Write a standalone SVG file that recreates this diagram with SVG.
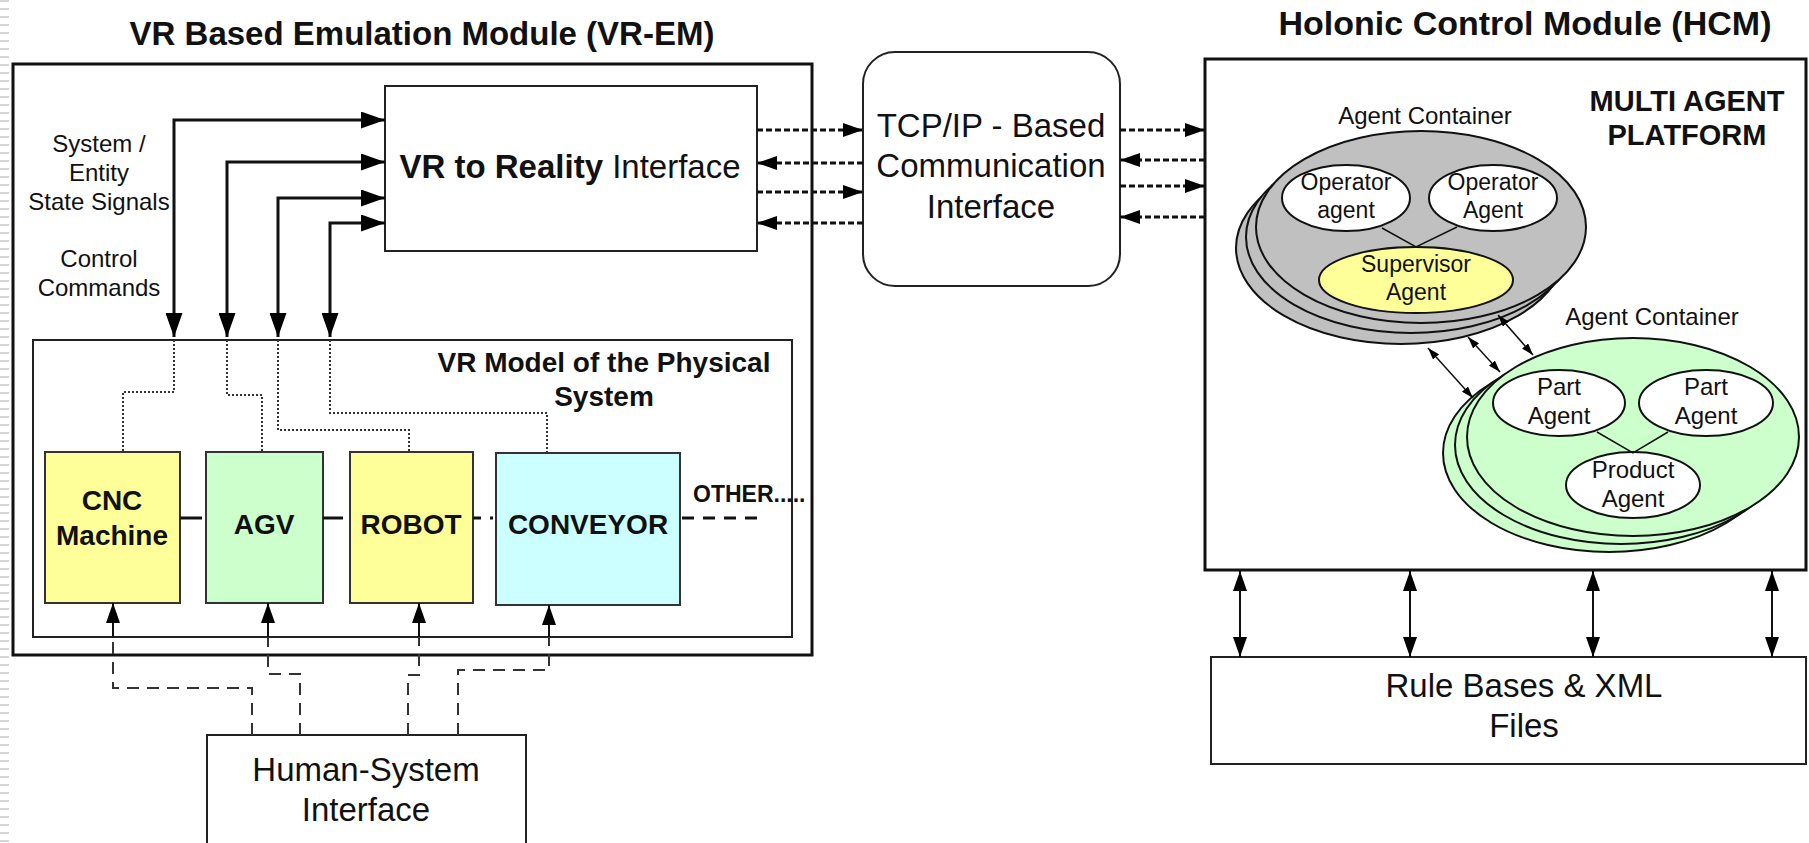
<svg xmlns="http://www.w3.org/2000/svg" width="1809" height="843" viewBox="0 0 1809 843">
<defs>
<style>
text{font-family:"Liberation Sans",Arial,sans-serif;fill:#111;text-anchor:middle}
.b{font-weight:bold}
.box{fill:#fff;stroke:#222;stroke-width:2}
.thick{fill:#fff;stroke:#111;stroke-width:3}
.solid{fill:none;stroke:#111;stroke-width:3}
.dash{fill:none;stroke:#111;stroke-width:3;stroke-dasharray:6 3}
.dot{fill:none;stroke:#333;stroke-width:2;stroke-dasharray:2 2}
.ldash{fill:none;stroke:#333;stroke-width:2;stroke-dasharray:12 8}
.thin{fill:none;stroke:#111;stroke-width:2}
.hair{fill:none;stroke:#111;stroke-width:1.5}
.el{stroke:#111;stroke-width:2}
.gray{fill:#C0C0C0}
.green{fill:#CCFFCC}
.white{fill:#fff}
.yel{fill:#FFFF99}
.comp{stroke:#333;stroke-width:2}
</style>
<marker id="ab" viewBox="0 0 24 17" refX="24" refY="8.5" markerWidth="24" markerHeight="17" markerUnits="userSpaceOnUse" orient="auto-start-reverse"><path d="M0,0 L24,8.5 L0,17 z" fill="#000"/></marker>
<marker id="am" viewBox="0 0 20 14" refX="20" refY="7" markerWidth="20" markerHeight="14" markerUnits="userSpaceOnUse" orient="auto-start-reverse"><path d="M0,0 L20,7 L0,14 z" fill="#000"/></marker>
<marker id="as" viewBox="0 0 12 8" refX="12" refY="4" markerWidth="12" markerHeight="8" markerUnits="userSpaceOnUse" orient="auto-start-reverse"><path d="M0,0 L12,4 L0,8 z" fill="#000"/></marker>
<pattern id="stripes" width="10" height="8" patternUnits="userSpaceOnUse"><rect width="10" height="2" fill="#d6d6d6"/></pattern>
</defs>
<rect x="0" y="0" width="1809" height="843" fill="#fff"/>
<rect x="0" y="0" width="9" height="843" fill="url(#stripes)"/>

<g id="vr-em">
<rect class="thick" x="13" y="64" width="799" height="591"/>
<text class="b" x="422" y="45" font-size="33">VR Based Emulation Module (VR-EM)</text>
<text x="99" y="152" font-size="24">System /</text>
<text x="99" y="181" font-size="24">Entity</text>
<text x="99" y="210" font-size="24">State Signals</text>
<text x="99" y="267" font-size="24">Control</text>
<text x="99" y="296" font-size="24">Commands</text>
</g>

<g id="vr-to-reality">
<rect class="box" x="385" y="86" width="372" height="165"/>
<text x="570" y="178" font-size="33"><tspan class="b">VR to Reality</tspan> Interface</text>
</g>

<g id="vr-model">
<rect class="box" x="33" y="340" width="759" height="297"/>
<text class="b" x="604" y="372" font-size="28">VR Model of the Physical</text>
<text class="b" x="604" y="406" font-size="28">System</text>
</g>

<g id="cnc">
<rect class="comp yel" x="45" y="452" width="135" height="151"/>
<text class="b" x="112" y="510" font-size="28">CNC</text>
<text class="b" x="112" y="545" font-size="28">Machine</text>
</g>
<g id="agv">
<rect class="comp green" x="206" y="452" width="117" height="151"/>
<text class="b" x="264" y="534" font-size="28">AGV</text>
</g>
<g id="robot">
<rect class="comp yel" x="350" y="452" width="123" height="151"/>
<text class="b" x="411" y="534" font-size="28">ROBOT</text>
</g>
<g id="conveyor">
<rect class="comp" fill="#CCFFFF" x="496" y="453" width="184" height="152"/>
<text class="b" x="588" y="534" font-size="28">CONVEYOR</text>
</g>
<g id="other">
<text class="b" x="693" y="502" font-size="23" style="text-anchor:start">OTHER.....</text>
</g>

<g id="human-system-interface">
<rect class="box" x="207" y="735" width="319" height="125"/>
<text x="366" y="781" font-size="33">Human-System</text>
<text x="366" y="821" font-size="33">Interface</text>
</g>

<g id="tcp-ip">
<rect class="box" x="863" y="52" width="257" height="234" rx="32" ry="32"/>
<text x="991" y="137" font-size="33">TCP/IP - Based</text>
<text x="991" y="177" font-size="33">Communication</text>
<text x="991" y="218" font-size="33">Interface</text>
</g>

<g id="hcm">
<rect class="thick" x="1205" y="59" width="601" height="511"/>
<text class="b" x="1525" y="35" font-size="34">Holonic Control Module (HCM)</text>
<text class="b" x="1687" y="111" font-size="29">MULTI AGENT</text>
<text class="b" x="1687" y="145" font-size="29">PLATFORM</text>
</g>

<g id="rule-bases">
<rect class="box" x="1211" y="657" width="595" height="107"/>
<text x="1524" y="697" font-size="33">Rule Bases &amp; XML</text>
<text x="1524" y="737" font-size="33">Files</text>
</g>

<g id="agent-container-1">
<ellipse class="el gray" cx="1401" cy="248" rx="165" ry="96"/>
<ellipse class="el gray" cx="1411" cy="237" rx="165" ry="96"/>
<ellipse class="el gray" cx="1421" cy="227" rx="165" ry="96"/>
<text x="1425" y="124" font-size="24">Agent Container</text>
</g>
<g id="operator-agent-1">
<ellipse class="el white" cx="1346" cy="198" rx="64" ry="33"/>
<text x="1346" y="190" font-size="23">Operator</text>
<text x="1346" y="218" font-size="23">agent</text>
</g>
<g id="operator-agent-2">
<ellipse class="el white" cx="1493" cy="198" rx="64" ry="33"/>
<text x="1493" y="190" font-size="23">Operator</text>
<text x="1493" y="218" font-size="23">Agent</text>
</g>
<g id="supervisor-agent">
<ellipse class="el yel" cx="1416" cy="280" rx="97" ry="33"/>
<text x="1416" y="272" font-size="23">Supervisor</text>
<text x="1416" y="300" font-size="23">Agent</text>
</g>

<g id="agent-container-2">
<ellipse class="el green" cx="1609" cy="453" rx="166" ry="99"/>
<ellipse class="el green" cx="1621" cy="445" rx="166" ry="99"/>
<ellipse class="el green" cx="1633" cy="437" rx="166" ry="99"/>
<text x="1652" y="325" font-size="24">Agent Container</text>
</g>
<g id="part-agent-1">
<ellipse class="el white" cx="1559" cy="403" rx="66" ry="33"/>
<text x="1559" y="395" font-size="24">Part</text>
<text x="1559" y="424" font-size="24">Agent</text>
</g>
<g id="part-agent-2">
<ellipse class="el white" cx="1706" cy="403" rx="67" ry="33"/>
<text x="1706" y="395" font-size="24">Part</text>
<text x="1706" y="424" font-size="24">Agent</text>
</g>
<g id="product-agent">
<ellipse class="el white" cx="1633" cy="485" rx="67" ry="33"/>
<text x="1633" y="478" font-size="24">Product</text>
<text x="1633" y="507" font-size="24">Agent</text>
</g>

<g id="connectors">
<path class="solid" d="M385,120 H174 V337" marker-start="url(#ab)" marker-end="url(#ab)"/>
<path class="solid" d="M385,162 H227 V337" marker-start="url(#ab)" marker-end="url(#ab)"/>
<path class="solid" d="M385,198 H278 V337" marker-start="url(#ab)" marker-end="url(#ab)"/>
<path class="solid" d="M385,223 H330 V337" marker-start="url(#ab)" marker-end="url(#ab)"/>

<path class="dot" d="M174,340 V392 H123 V452"/>
<path class="dot" d="M227,340 V395 H262 V452"/>
<path class="dot" d="M278,340 V430 H409 V452"/>
<path class="dot" d="M330,340 V413 H547 V453"/>

<path class="dash" d="M757,130 H863" marker-end="url(#am)"/>
<path class="dash" d="M863,163 H757" marker-end="url(#am)"/>
<path class="dash" d="M757,192 H863" marker-end="url(#am)"/>
<path class="dash" d="M863,223 H757" marker-end="url(#am)"/>

<path class="dash" d="M1120,130 H1205" marker-end="url(#am)"/>
<path class="dash" d="M1205,160 H1120" marker-end="url(#am)"/>
<path class="dash" d="M1120,186 H1205" marker-end="url(#am)"/>
<path class="dash" d="M1205,217 H1120" marker-end="url(#am)"/>

<path class="thin" d="M1240,571 V657" marker-start="url(#am)" marker-end="url(#am)"/>
<path class="thin" d="M1410,571 V657" marker-start="url(#am)" marker-end="url(#am)"/>
<path class="thin" d="M1593,571 V657" marker-start="url(#am)" marker-end="url(#am)"/>
<path class="thin" d="M1772,571 V657" marker-start="url(#am)" marker-end="url(#am)"/>

<path class="ldash" d="M252,735 V688 H113 V637"/>
<path class="ldash" d="M300,735 V674 H268 V637"/>
<path class="ldash" d="M408,735 V675 H419 V637"/>
<path class="ldash" d="M458,735 V670 H549 V637"/>
<path class="thin" d="M113,637 V603" marker-end="url(#am)"/>
<path class="thin" d="M268,637 V603" marker-end="url(#am)"/>
<path class="thin" d="M419,637 V603" marker-end="url(#am)"/>
<path class="thin" d="M549,637 V605" marker-end="url(#am)"/>

<path class="solid" d="M180,518 H202"/>
<path class="solid" d="M323,518 H343"/>
<path class="solid" d="M473,518 H496" style="stroke-dasharray:8 9 3 4"/>
<path class="solid" d="M682,518 H758" style="stroke-dasharray:12 9"/>

<path class="hair" d="M1382,228 L1416,247 L1457,227"/>
<path class="hair" d="M1597,432 L1633,453 L1668,432"/>

<path class="hair" d="M1428,348 L1473,398" marker-start="url(#as)" marker-end="url(#as)"/>
<path class="hair" d="M1468,337 L1500,372" marker-start="url(#as)" marker-end="url(#as)"/>
<path class="hair" d="M1498,315 L1533,355" marker-start="url(#as)" marker-end="url(#as)"/>
</g>
</svg>
